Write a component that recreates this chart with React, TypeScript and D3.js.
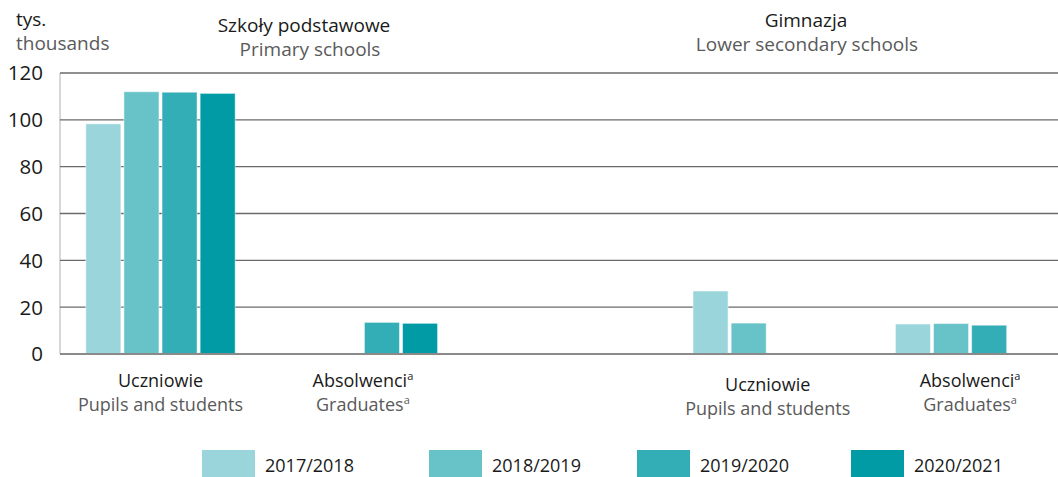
import React from "react";
import * as d3 from "d3";

const series = ["2017/2018", "2018/2019", "2019/2020", "2020/2021"];
const colors = ["#9bd5dc", "#67c3c8", "#34aeb6", "#009ba5"];
const categories = ["pp", "pg", "gap", "lp", "lg"];
const catPl = ["Uczniowie", "Absolwenci", "", "Uczniowie", "Absolwenci"];
const catEn = ["Pupils and students", "Graduates", "", "Pupils and students", "Graduates"];
const catSup = [false, true, false, false, true];
// values per series, aligned with categories (null = no bar)
const v2017 = [98.3, null, null, 26.9, 12.8];
const v2018 = [112.0, null, null, 13.2, 13.0];
const v2019 = [111.8, 13.5, null, null, 12.3];
const v2020 = [111.3, 13.1, null, null, null];
const values = [v2017, v2018, v2019, v2020];
const yTicks = [0, 20, 40, 60, 80, 100, 120];

const FONT = "'Open Sans', sans-serif";
const W = 1058, H = 477;
const left = 60, right = 1058, top = 73, bottom = 354;

export default function App() {
  const y = d3.scaleLinear().domain([0, 120]).range([bottom, top]);
  const x = d3.scaleBand().domain(categories).range([59.3, 1071.3]).padding(0);
  const xi = d3.scaleBand().domain(series).range([25, x.bandwidth() - 25]).paddingInner(0.08).paddingOuter(0.04);

  const bars: any[] = [];
  values.forEach((vals, si) => {
    vals.forEach((v, ci) => {
      if (v == null) return;
      const bx = (x(categories[ci]) as number) + (xi(series[si]) as number);
      bars.push(
        <rect key={`${si}-${ci}`} x={bx} y={y(v)} width={xi.bandwidth()} height={y(0) - y(v)}
          fill={colors[si]} stroke="#ffffff" strokeOpacity={0.5} strokeWidth={1} />
      );
    });
  });

  const labelYOffsets = [0, 0, 0, 4, 0];
  const legendX = [202, 429, 637, 851];

  return (
    <svg width={W} height={H} style={{ position: "absolute", left: 0, top: 0, fontFamily: FONT }}>
      <rect width={W} height={H} fill="#fff" />
      {/* left axis */}
      <line x1={left} x2={left} y1={top} y2={bottom} stroke="#b0b0b0" strokeWidth={1} />
      {yTicks.filter((t) => t > 0).map((t) => (
        <line key={t} x1={left} x2={right} y1={y(t)} y2={y(t)} stroke="#6a6a6a" strokeWidth={1.3} />
      ))}
      {bars}
      <line x1={left} x2={right} y1={y(0)} y2={y(0)} stroke="#8a8a8a" strokeWidth={2} />
      {yTicks.map((t) => (
        <text key={t} x={43} y={y(t)} dy="0.36em" textAnchor="end" fontSize={20.5} fill="#1a1a1a">{t}</text>
      ))}
      <text x={16} y={26} fontSize={19} fill="#1a1a1a">tys.</text>
      <text x={16} y={50} fontSize={19} fill="#5a5a5a">thousands</text>
      <text x={304} y={32} textAnchor="middle" fontSize={19} fill="#1a1a1a">Szkoły podstawowe</text>
      <text x={310} y={56} textAnchor="middle" fontSize={19} fill="#5a5a5a">Primary schools</text>
      <text x={806} y={27} textAnchor="middle" fontSize={19} fill="#1a1a1a">Gimnazja</text>
      <text x={807} y={51} textAnchor="middle" fontSize={19} fill="#5a5a5a">Lower secondary schools</text>
      {categories.map((c, i) => {
        if (!catPl[i]) return null;
        const cx = (x(c) as number) + x.bandwidth() / 2;
        const off = labelYOffsets[i];
        return (
          <g key={c}>
            <text x={cx} y={387 + off} textAnchor="middle" fontSize={18} fill="#1a1a1a">
              {catPl[i]}
              {catSup[i] && <tspan fontSize={11} dy={-7}>a</tspan>}
            </text>
            <text x={cx} y={411 + off} textAnchor="middle" fontSize={18} fill="#5a5a5a">
              {catEn[i]}
              {catSup[i] && <tspan fontSize={11} dy={-7}>a</tspan>}
            </text>
          </g>
        );
      })}
      {series.map((s, i) => (
        <g key={s}>
          <rect x={legendX[i]} y={450} width={53} height={27} fill={colors[i]} />
          <text x={legendX[i] + 63} y={472} fontSize={18} fill="#1a1a1a">{s}</text>
        </g>
      ))}
    </svg>
  );
}
